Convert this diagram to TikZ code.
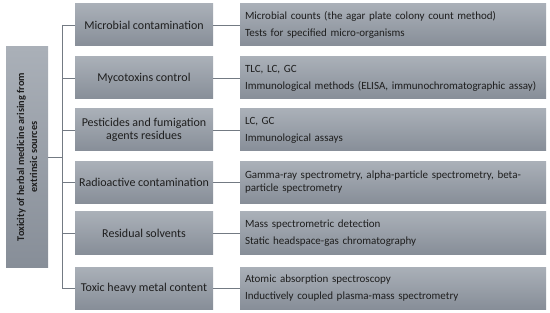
\documentclass[tikz,border=0pt]{standalone}
\usepackage{fontspec}
\setmainfont{Carlito}
\definecolor{boxtop}{HTML}{AAB0B8}
\definecolor{boxbot}{HTML}{878E98}
\definecolor{linecol}{HTML}{737A83}
\definecolor{txt}{HTML}{1E1E1E}
\begin{document}
\begin{tikzpicture}[x=1pt,y=-1pt,
  gbox/.style={top color=boxtop,bottom color=boxbot,draw=none,text=txt,inner sep=0pt},
  midbox/.style={gbox,minimum width=138pt,minimum height=42pt,align=center,font=\fontsize{12}{13}\selectfont},
  rbox/.style={gbox,minimum width=306pt,minimum height=42pt,text width=296pt,align=left,font=\fontsize{11}{13}\selectfont},
  conn/.style={draw=linecol,line width=0.7pt}]
\useasboundingbox (0,0) rectangle (550,313);
\fill[white] (0,0) rectangle (550,313);
\node[gbox,rotate=90,minimum width=220pt,minimum height=42pt,align=center,font=\bfseries\fontsize{10.3}{13}\selectfont,fill=boxbot] (root) at (27,157) {Toxicity of herbal medicine arising from\\extrinsic sources};
\coordinate (tr) at (62,0);
\node[midbox] (m1) at (144,25) {Microbial contamination};
\node[midbox] (m2) at (144,78) {Mycotoxins control};
\node[midbox] (m3) at (144,130) {Pesticides and fumigation\\agents residues};
\node[midbox] (m4) at (144,182.5) {Radioactive contamination};
\node[midbox] (m5) at (144,233) {Residual solvents};
\node[midbox] (m6) at (144,288) {Toxic heavy metal content};
\node[rbox] (r1) at (393,25) {Microbial counts (the agar plate colony count method)\\[4pt]Tests for specified micro-organisms};
\node[rbox] (r2) at (393,78) {TLC, LC, GC\\[4pt]Immunological methods (ELISA, immunochromatographic assay)};
\node[rbox] (r3) at (393,130) {LC, GC\\[4pt]Immunological assays};
\node[rbox] (r4) at (393,182.5) {Gamma-ray spectrometry, alpha-particle spectrometry, beta-\\particle spectrometry};
\node[rbox] (r5) at (393,233) {Mass spectrometric detection\\[4pt]Static headspace-gas chromatography};
\node[rbox] (r6) at (393,288) {Atomic absorption spectroscopy\\[4pt]Inductively coupled plasma-mass spectrometry};
\draw[conn] (root.south) -- (root.south -| tr);
\draw[conn] (m1.west -| tr) -- (m6.west -| tr);
\foreach \i in {1,...,6}{
  \draw[conn] (m\i.west -| tr) -- (m\i.west);
  \draw[conn] (m\i.east) -- (r\i.west);
}
\end{tikzpicture}
\end{document}
